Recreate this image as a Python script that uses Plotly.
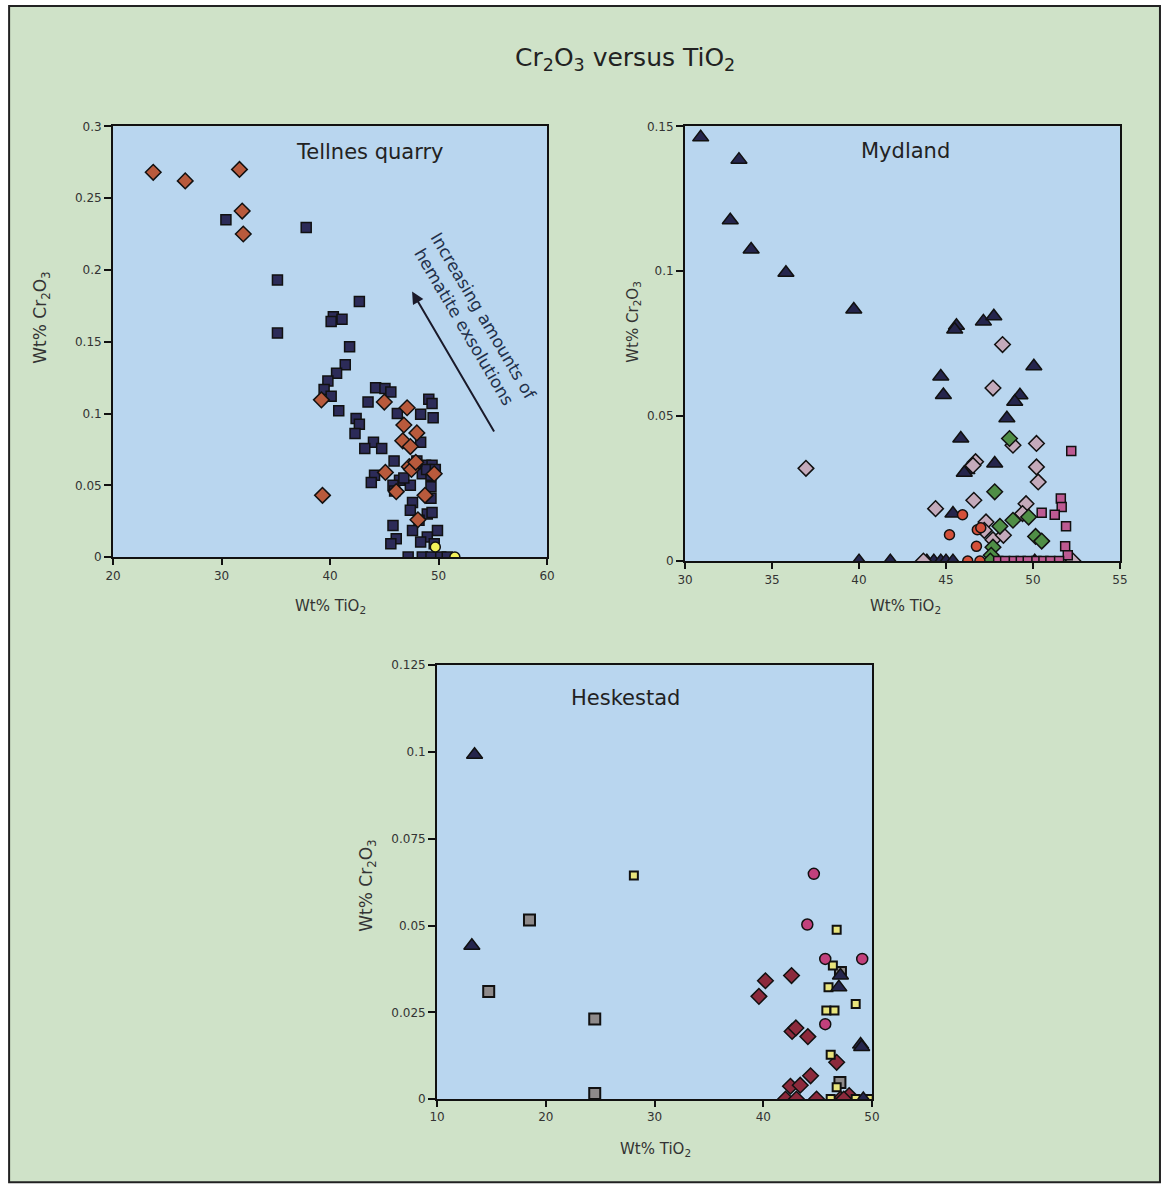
import plotly.graph_objects as go

# page: body margin of 8 px and a small uniform shrink observed in the capture
OFF = 8
SC = 0.9865
FW, FH = 1175, 1195

# ---------------- Tellnes quarry ----------------
tel_sq_x = [30.4, 37.8, 35.15, 35.15, 42.7, 40.3, 41.1, 40.1, 41.8, 41.4, 40.6, 39.8, 39.45, 40.1, 40.8,
            44.2, 45.06, 45.6, 43.5, 49.1, 49.4, 48.35, 49.5, 46.2, 42.4, 42.7, 42.3, 44.0, 43.2, 44.76,
            48.35, 45.9, 48.2, 48.8, 49.4, 48.5, 49.3, 44.1, 43.8, 46.4, 45.8, 45.95, 47.4, 49.3, 49.3,
            47.6, 47.4, 48.96, 49.4, 48.2, 49.9, 45.8, 47.6, 48.96, 46.1, 45.6, 48.35, 49.6,
            47.2, 48.5, 49.3, 50.2, 50.8, 48.9, 49.7, 48.0, 46.8]
tel_sq_y = [0.235, 0.2295, 0.193, 0.156, 0.178, 0.1674, 0.1656, 0.164, 0.1465, 0.134, 0.128, 0.1226, 0.1167, 0.112, 0.102,
            0.118, 0.1174, 0.115, 0.108, 0.110, 0.107, 0.0995, 0.097, 0.100, 0.0965, 0.0926, 0.086, 0.080, 0.0756, 0.0756,
            0.080, 0.067, 0.063, 0.064, 0.064, 0.058, 0.057, 0.057, 0.052, 0.0535, 0.050, 0.046, 0.050, 0.049, 0.041,
            0.038, 0.0326, 0.030, 0.031, 0.0256, 0.0186, 0.022, 0.0186, 0.014, 0.0128, 0.0093, 0.0105, 0.0093,
            0.0, 0.0, 0.0, 0.0, 0.0, 0.061, 0.061, 0.067, 0.055]
tel_di_x = [23.7, 26.65, 31.65, 31.9, 32.0, 39.2, 39.3, 45.0, 47.1, 46.8, 48.0, 46.7, 47.4, 47.3, 47.5,
            45.1, 46.1, 48.75, 48.1, 49.6, 47.9]
tel_di_y = [0.268, 0.262, 0.270, 0.241, 0.225, 0.1095, 0.043, 0.108, 0.104, 0.092, 0.0865, 0.081, 0.077, 0.063, 0.061,
            0.059, 0.0456, 0.043, 0.026, 0.058, 0.066]
tel_ci_x = [49.7, 51.5]
tel_ci_y = [0.007, 0.0]

# ---------------- Mydland ----------------
myd_tri_x = [30.9, 33.1, 32.6, 33.8, 35.8, 39.7, 45.6, 45.5, 47.15, 47.75, 50.05, 44.7, 44.85, 49.25, 48.95,
             48.5, 45.85, 47.8, 46.2, 46.05, 45.4, 40.0, 41.8, 43.9, 44.3, 44.7, 45.0, 45.4, 50.1]
myd_tri_y = [0.1462, 0.1385, 0.1176, 0.1075, 0.0995, 0.0868, 0.0812, 0.0799, 0.0827, 0.0845, 0.0672, 0.0637, 0.0573, 0.0572, 0.055,
             0.0493, 0.0423, 0.0337, 0.0314, 0.0305, 0.0164, 0.0, 0.0, 0.0, 0.0, 0.0, 0.0, 0.0, 0.0]
myd_gdi_x = [48.25, 47.7, 36.95, 46.7, 46.6, 44.4, 50.2, 50.2, 50.3, 49.6, 49.4, 47.3, 47.2, 47.7, 48.3, 48.85, 46.55,
             43.7, 52.3]
myd_gdi_y = [0.0747, 0.0597, 0.032, 0.0343, 0.021, 0.0181, 0.0406, 0.0325, 0.0273, 0.0198, 0.0164, 0.0135, 0.0106, 0.0074, 0.0089, 0.040, 0.033,
             0.0, 0.0]
myd_green_x = [48.65, 47.8, 48.85, 48.1, 49.75, 50.15, 50.5, 47.7, 47.6, 47.55]
myd_green_y = [0.0423, 0.0239, 0.0141, 0.012, 0.0152, 0.0085, 0.0069, 0.0048, 0.002, 0.0]
myd_red_x = [45.95, 45.2, 46.8, 46.75, 46.25, 46.95, 47.0]
myd_red_y = [0.016, 0.0091, 0.0108, 0.0051, 0.0, 0.0, 0.0115]
myd_sq_x = [52.2, 51.6, 51.65, 50.5, 51.25, 51.9, 51.85, 52.0,
            48.0, 48.4, 48.9, 49.3, 49.7, 50.2, 50.6, 51.0, 51.5]
myd_sq_y = [0.038, 0.0216, 0.0187, 0.0167, 0.016, 0.012, 0.0051, 0.002,
            0.0, 0.0, 0.0, 0.0, 0.0, 0.0, 0.0, 0.0, 0.0]

# ---------------- Heskestad ----------------
hes_tri_x = [13.45, 13.2, 48.95, 49.05, 46.95, 47.1, 49.2]
hes_tri_y = [0.0992, 0.0442, 0.0157, 0.015, 0.0322, 0.0356, 0.0]
hes_gsq_x = [18.5, 14.75, 24.5, 24.5, 47.05, 47.1]
hes_gsq_y = [0.0516, 0.031, 0.0231, 0.0016, 0.0048, 0.0365]
hes_ysq_x = [28.1, 46.75, 46.4, 46.0, 45.8, 46.55, 48.5, 46.2, 46.75, 46.2, 48.5, 49.7]
hes_ysq_y = [0.0644, 0.0488, 0.0385, 0.0322, 0.0255, 0.0255, 0.0274, 0.0128, 0.0034, 0.0, 0.0, 0.0]
hes_ci_x = [44.65, 44.05, 45.7, 49.1, 45.7]
hes_ci_y = [0.0649, 0.0503, 0.0404, 0.0404, 0.0216]
hes_di_x = [39.6, 40.2, 42.6, 42.65, 43.0, 44.1, 44.35, 42.5, 43.4, 46.75, 42.05, 43.05, 44.9, 47.1, 47.9, 47.4]
hes_di_y = [0.0296, 0.0341, 0.0356, 0.0195, 0.0205, 0.018, 0.0067, 0.0037, 0.004, 0.0106, 0.0, 0.0, 0.0, 0.0, 0.001, 0.0]

# tick labels
tel_x_ticks = [20, 30, 40, 50, 60]
tel_y_ticks = [0, 0.05, 0.1, 0.15, 0.2, 0.25, 0.3]
tel_y_text = ["0", "0.05", "0.1", "0.15", "0.2", "0.25", "0.3"]
myd_x_ticks = [30, 35, 40, 45, 50, 55]
myd_y_ticks = [0, 0.05, 0.1, 0.15]
myd_y_text = ["0", "0.05", "0.1", "0.15"]
hes_x_ticks = [10, 20, 30, 40, 50]
hes_y_ticks = [0, 0.025, 0.05, 0.075, 0.1, 0.125]
hes_y_text = ["0", "0.025", "0.05", "0.075", "0.1", "0.125"]

GREEN = "#cfe2c8"
BLUE = "#b9d6ef"
FONT = "DejaVu Sans"


def px(s):
    return (s / SC - OFF) / FW


def py(s):
    return 1 - (s / SC - OFF) / FH


def mk(symbol, color, size, lw=1.5):
    return dict(symbol=symbol, color=color, size=size, line=dict(color="#111111", width=lw))


fig = go.Figure()

# Tellnes
fig.add_trace(go.Scatter(x=tel_sq_x, y=tel_sq_y, mode="markers", marker=mk("square", "#2c2b58", 10), xaxis="x", yaxis="y"))
fig.add_trace(go.Scatter(x=tel_di_x, y=tel_di_y, mode="markers", marker=mk("diamond", "#b85a3c", 12), xaxis="x", yaxis="y"))
fig.add_trace(go.Scatter(x=tel_ci_x, y=tel_ci_y, mode="markers", marker=mk("circle", "#f2f05a", 10), xaxis="x", yaxis="y"))

# Mydland
fig.add_trace(go.Scatter(x=myd_tri_x, y=myd_tri_y, mode="markers", marker=mk("triangle-up", "#25254c", 14), xaxis="x2", yaxis="y2"))
fig.add_trace(go.Scatter(x=myd_gdi_x, y=myd_gdi_y, mode="markers", marker=mk("diamond", "#c4aabb", 12), xaxis="x2", yaxis="y2"))
fig.add_trace(go.Scatter(x=myd_green_x, y=myd_green_y, mode="markers", marker=mk("diamond", "#4f8e46", 12), xaxis="x2", yaxis="y2"))
fig.add_trace(go.Scatter(x=myd_red_x, y=myd_red_y, mode="markers", marker=mk("circle", "#d4503a", 10), xaxis="x2", yaxis="y2"))
fig.add_trace(go.Scatter(x=myd_sq_x, y=myd_sq_y, mode="markers", marker=mk("square", "#bd5a92", 9), xaxis="x2", yaxis="y2"))

# Heskestad
fig.add_trace(go.Scatter(x=hes_di_x, y=hes_di_y, mode="markers", marker=mk("diamond", "#8c2a3c", 12), xaxis="x3", yaxis="y3"))
fig.add_trace(go.Scatter(x=hes_gsq_x, y=hes_gsq_y, mode="markers", marker=mk("square", "#8e8a8a", 11, 2), xaxis="x3", yaxis="y3"))
fig.add_trace(go.Scatter(x=hes_ysq_x, y=hes_ysq_y, mode="markers", marker=mk("square", "#e8e47c", 8, 2), xaxis="x3", yaxis="y3"))
fig.add_trace(go.Scatter(x=hes_ci_x, y=hes_ci_y, mode="markers", marker=mk("circle", "#c2407c", 11), xaxis="x3", yaxis="y3"))
fig.add_trace(go.Scatter(x=hes_tri_x, y=hes_tri_y, mode="markers", marker=mk("triangle-up", "#25254c", 14), xaxis="x3", yaxis="y3"))


def xax(dom, rng, ticks, anchor):
    return dict(domain=dom, range=rng, tickvals=ticks, showgrid=False, zeroline=False,
                showline=True, linecolor="#111111", linewidth=2, mirror=True,
                ticks="outside", ticklen=6, tickwidth=2, tickcolor="#111111",
                tickfont=dict(family=FONT, size=12, color="#333333"), anchor=anchor)


def yax(dom, rng, ticks, text, anchor):
    return dict(domain=dom, range=rng, tickvals=ticks, ticktext=text, showgrid=False, zeroline=False,
                showline=True, linecolor="#111111", linewidth=2, mirror=True,
                ticks="outside", ticklen=7, tickwidth=2, tickcolor="#111111",
                tickfont=dict(family=FONT, size=12, color="#333333"), anchor=anchor)


fig.update_layout(
    width=FW, height=FH, margin=dict(l=0, r=0, t=0, b=0),
    paper_bgcolor="white", plot_bgcolor=BLUE, showlegend=False,
    xaxis=xax([px(113), px(547)], [20, 60], tel_x_ticks, "y"),
    yaxis=yax([py(557), py(127)], [0, 0.3], tel_y_ticks, tel_y_text, "x"),
    xaxis2=xax([px(685), px(1120)], [30, 55], myd_x_ticks, "y2"),
    yaxis2=yax([py(561), py(127)], [0, 0.15], myd_y_ticks, myd_y_text, "x2"),
    xaxis3=xax([px(437), px(872)], [10, 50], hes_x_ticks, "y3"),
    yaxis3=yax([py(1098), py(665)], [0, 0.125], hes_y_ticks, hes_y_text, "x3"),
)

# background frame and panel backgrounds
fig.add_shape(type="rect", xref="paper", yref="paper", x0=px(9), x1=px(1160), y0=py(1181), y1=py(7),
              fillcolor=GREEN, line=dict(color="#222222", width=2), layer="below")
for xr, yr in [("x", "y"), ("x2", "y2"), ("x3", "y3")]:
    fig.add_shape(type="rect", xref=xr + " domain", yref=yr + " domain", x0=0, x1=1, y0=0, y1=1,
                  fillcolor=BLUE, line=dict(width=0), layer="below")

C = dict(xanchor="center", yanchor="middle", xref="paper", yref="paper", showarrow=False)
ann = []
ann.append(dict(text="Cr<sub>2</sub>O<sub>3</sub> versus TiO<sub>2</sub>", x=px(625), y=py(60),
                font=dict(family=FONT, size=25, color="#222222"), **C))
# panel titles
for t, xx, yy in [("Tellnes quarry", 370, 153), ("Mydland", 905, 152), ("Heskestad", 625, 698)]:
    ann.append(dict(text=t, x=px(xx), y=py(yy), font=dict(family=FONT, size=21, color="#222222"), **C))
# x titles
for xx, yy in [(330, 606), (905, 606), (655, 1148)]:
    ann.append(dict(text="Wt% TiO<sub>2</sub>", x=px(xx), y=py(yy),
                    font=dict(family=FONT, size=15, color="#333333"), **C))
# y titles
for xx, yy, fs in [(42, 318, 17), (634, 322, 15), (368, 885, 17)]:
    ann.append(dict(text="Wt% Cr<sub>2</sub>O<sub>3</sub>", x=px(xx), y=py(yy), textangle=-90,
                    font=dict(family=FONT, size=fs, color="#333333"), **C))
# arrow
ann.append(dict(x=47.56, y=0.1849, ax=55.2, ay=0.0865, xref="x", yref="y", axref="x", ayref="y",
                text="", showarrow=True, arrowhead=2, arrowsize=1.2, arrowwidth=2, arrowcolor="#1a1a2a"))
ann.append(dict(x=53.3, y=0.1640, xref="x", yref="y", text="Increasing amounts of<br>hematite exsolutions",
                showarrow=False, textangle=59.5, xanchor="center", yanchor="middle",
                font=dict(family=FONT, size=17, color="#22304a")))

fig.update_layout(annotations=ann)
fig.write_html("out.html")
